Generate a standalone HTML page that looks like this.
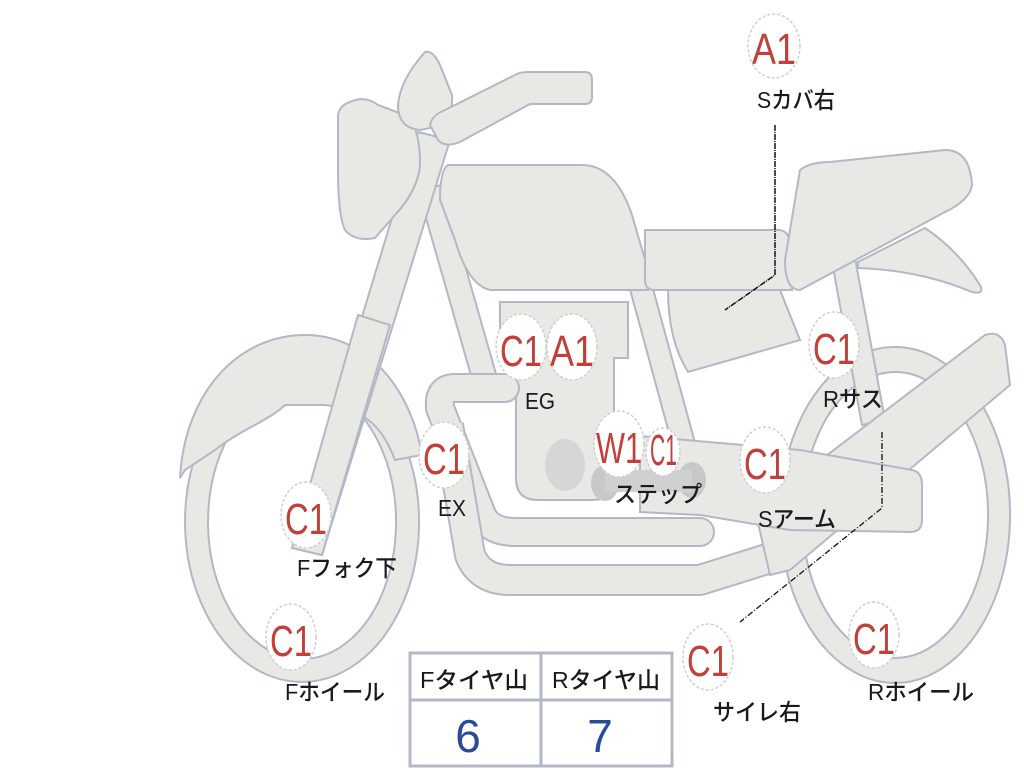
<!DOCTYPE html>
<html><head><meta charset="utf-8"><style>
html,body{margin:0;padding:0;background:#fff;width:1024px;height:768px;overflow:hidden}
svg{display:block}
.s{fill:#e8e8e4;stroke:#b3b8c6;stroke-width:2}
.lab{font-family:"Liberation Sans","Noto Sans CJK JP",sans-serif;fill:#1a1a1a;font-size:23px;font-weight:500}
.c{fill:#fff;stroke:#cfcfcf;stroke-width:1.5;stroke-dasharray:3 2}
.ct{font-family:"Liberation Sans",sans-serif;fill:#c1403a;font-size:44px}
</style></head><body>
<svg width="1024" height="768" viewBox="0 0 1024 768" xmlns="http://www.w3.org/2000/svg">
<path class="s" fill-rule="evenodd" d="M895,347 a115,168 0 1,0 0.1,0 Z M895,372 a93,143 0 1,0 0.1,0 Z"/>
<path class="s" fill-rule="evenodd" d="M302,362 a117,160 0 1,0 0.1,0 Z M302,385 a94,137 0 1,0 0.1,0 Z"/>
<path class="s" d="M180,478 C185,390 240,335 305,335 C365,335 410,385 422,455 L395,460 C380,420 360,410 325,405 L285,405 C270,420 240,430 215,450 L185,470 Z"/>
<path class="s" d="M832,262 L855,258 L885,420 L862,425 Z"/>
<path class="s" d="M628,282 L650,278 L712,505 L690,510 Z"/>
<path class="s" d="M418,190 L442,185 L502,395 L478,400 Z"/>
<path class="s" d="M500,302 H628 V358 H614 V478 Q614,500 592,500 H538 Q516,500 516,478 V358 H500 Z"/>
<ellipse cx="565" cy="465" rx="20" ry="26" fill="#d6d6d6"/>
<path d="M505,388 H455 Q438,388 440,408 L482,515 Q490,532 515,532 H700" fill="none" stroke="#b3b8c6" stroke-width="30" stroke-linecap="round"/>
<path d="M505,388 H455 Q438,388 440,408 L482,515 Q490,532 515,532 H700" fill="none" stroke="#e8e8e4" stroke-width="26" stroke-linecap="round"/>
<path d="M448,425 L470,555 Q480,580 510,580 H700 L780,555" fill="none" stroke="#b3b8c6" stroke-width="32" stroke-linejoin="round"/>
<path d="M448,425 L470,555 Q480,580 510,580 H700 L780,555" fill="none" stroke="#e8e8e4" stroke-width="28" stroke-linejoin="round"/>
<path class="s" d="M755,510 L985,335 Q1000,330 1005,345 L1010,385 L790,570 L770,575 Z"/>
<path class="s" d="M640,436 L800,450 L912,470 Q922,472 922,485 L922,520 Q922,532 910,532 L790,530 L700,515 L640,512 Z"/>
<ellipse cx="605" cy="483" rx="14" ry="18" fill="#c8c8c8"/>
<ellipse cx="692" cy="480" rx="14" ry="18" fill="#c8c8c8"/>
<rect x="605" y="470" width="87" height="22" fill="#d0d0d0"/>
<path class="s" d="M418,132 L450,140 L322,555 L292,548 Z"/>
<path class="s" d="M358,315 L390,325 L322,555 L292,548 Z"/>
<path class="s" d="M448,165 H582 Q615,165 632,215 L648,270 L648,290 H490 Q468,285 455,240 L440,200 Q440,170 448,165 Z"/>
<path class="s" d="M668,290 L780,290 L800,340 L688,372 Q668,340 668,290 Z"/>
<path class="s" d="M645,230 H780 Q790,232 790,245 L792,290 H655 Q645,290 645,280 Z"/>
<path class="s" d="M858,262 L925,228 Q958,250 980,285 Q985,295 972,292 Q920,270 858,268 Z"/>
<path class="s" d="M800,170 Q810,162 830,162 L945,150 Q970,150 972,185 Q970,200 945,212 L800,290 Q785,290 785,260 Z"/>
<path class="s" d="M350,102 Q365,95 378,105 L405,115 Q420,125 420,165 Q418,190 395,215 L375,238 Q355,242 345,230 Q338,215 338,170 L338,115 Q340,105 350,102 Z"/>
<path class="s" d="M425,52 Q433,50 440,65 L452,95 Q455,125 420,130 Q398,128 398,105 Q400,80 425,52 Z"/>
<path class="s" d="M430,125 Q432,115 445,110 L515,75 Q520,72 528,72 H585 Q592,72 592,80 V97 Q592,104 585,104 H530 L460,142 Q445,148 438,140 Z"/>
<path d="M775,125 V275 L725,310" fill="none" stroke="#111" stroke-width="1.5" stroke-dasharray="6 1 1 1"/>
<path d="M882,432 V508 L740,622" fill="none" stroke="#111" stroke-width="1.3" stroke-dasharray="6 2 1 2"/>
<rect x="410" y="653" width="262" height="113" fill="#fff" stroke="#b3b8c6" stroke-width="3"/>
<line x1="410" y1="700" x2="672" y2="700" stroke="#b3b8c6" stroke-width="3"/>
<line x1="541" y1="653" x2="541" y2="766" stroke="#b3b8c6" stroke-width="3"/>
<text class="lab" x="420" y="688" textLength="108" lengthAdjust="spacingAndGlyphs">Fタイヤ山</text>
<text class="lab" x="552" y="688" textLength="108" lengthAdjust="spacingAndGlyphs">Rタイヤ山</text>
<text x="468" y="752" text-anchor="middle" font-family="Liberation Sans,sans-serif" font-size="46" fill="#2b4a9a">6</text>
<text x="600" y="752" text-anchor="middle" font-family="Liberation Sans,sans-serif" font-size="46" fill="#2b4a9a">7</text>
<g>
<ellipse class="c" cx="774" cy="46" rx="26" ry="32"/><text class="ct" x="752" y="64" textLength="44" lengthAdjust="spacingAndGlyphs">A1</text>
<ellipse class="c" cx="521" cy="347" rx="25" ry="33"/><text class="ct" x="500" y="366" textLength="42" lengthAdjust="spacingAndGlyphs">C1</text>
<ellipse class="c" cx="572" cy="347" rx="25" ry="33"/><text class="ct" x="550" y="366" textLength="44" lengthAdjust="spacingAndGlyphs">A1</text>
<ellipse class="c" cx="444" cy="455" rx="25" ry="33"/><text class="ct" x="423" y="474" textLength="42" lengthAdjust="spacingAndGlyphs">C1</text>
<ellipse class="c" cx="619" cy="444" rx="25" ry="33"/><text class="ct" x="596" y="463" textLength="46" lengthAdjust="spacingAndGlyphs">W1</text>
<ellipse class="c" cx="663" cy="452" rx="17" ry="24"/><text class="ct" x="650" y="465" font-size="30" textLength="27" lengthAdjust="spacingAndGlyphs">C1</text>
<ellipse class="c" cx="765" cy="460" rx="25" ry="33"/><text class="ct" x="744" y="479" textLength="42" lengthAdjust="spacingAndGlyphs">C1</text>
<ellipse class="c" cx="834" cy="345" rx="25" ry="33"/><text class="ct" x="813" y="364" textLength="42" lengthAdjust="spacingAndGlyphs">C1</text>
<ellipse class="c" cx="306" cy="515" rx="25" ry="33"/><text class="ct" x="285" y="534" textLength="42" lengthAdjust="spacingAndGlyphs">C1</text>
<ellipse class="c" cx="291" cy="637" rx="25" ry="33"/><text class="ct" x="270" y="656" textLength="42" lengthAdjust="spacingAndGlyphs">C1</text>
<ellipse class="c" cx="708" cy="657" rx="25" ry="33"/><text class="ct" x="687" y="676" textLength="42" lengthAdjust="spacingAndGlyphs">C1</text>
<ellipse class="c" cx="874" cy="635" rx="25" ry="33"/><text class="ct" x="853" y="654" textLength="42" lengthAdjust="spacingAndGlyphs">C1</text>
</g>
<text class="lab" x="757" y="108" textLength="78" lengthAdjust="spacingAndGlyphs">Sカバ右</text>
<text class="lab" x="525" y="409" textLength="30" lengthAdjust="spacingAndGlyphs">EG</text>
<text class="lab" x="438" y="516" textLength="28" lengthAdjust="spacingAndGlyphs">EX</text>
<text class="lab" x="614" y="502" textLength="88" lengthAdjust="spacingAndGlyphs">ステップ</text>
<text class="lab" x="758" y="527" textLength="78" lengthAdjust="spacingAndGlyphs">Sアーム</text>
<text class="lab" x="823" y="407" textLength="60" lengthAdjust="spacingAndGlyphs">Rサス</text>
<text class="lab" x="297" y="576" textLength="100" lengthAdjust="spacingAndGlyphs">Fフォク下</text>
<text class="lab" x="285" y="700" textLength="100" lengthAdjust="spacingAndGlyphs">Fホイール</text>
<text class="lab" x="713" y="720" textLength="88" lengthAdjust="spacingAndGlyphs">サイレ右</text>
<text class="lab" x="868" y="700" textLength="106" lengthAdjust="spacingAndGlyphs">Rホイール</text>
</svg>
</body></html>
